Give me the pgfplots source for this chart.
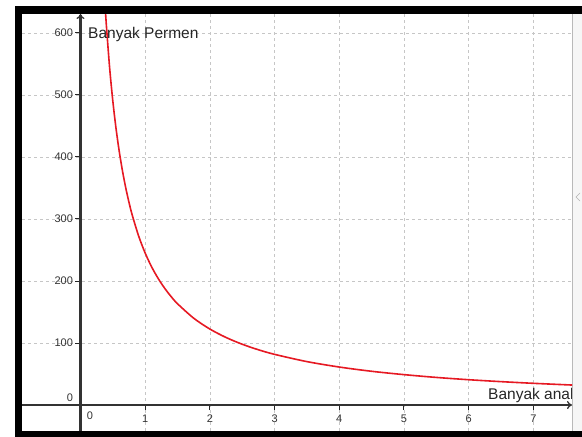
\documentclass[border=0pt]{standalone}
\usepackage{pgfplots}
\pgfplotsset{compat=1.18}
\usepackage{fontspec}
\setmainfont{Liberation Sans}
\usetikzlibrary{arrows.meta}
\definecolor{curvered}{RGB}{230,25,35}
\begin{document}
\begin{tikzpicture}[x=1pt,y=1pt]
\useasboundingbox (0,0) rectangle (582,437);
\fill[white] (0,0) rectangle (582,437);
\fill[gray!7] (572,6) rectangle (582,423);
\draw[gray!55, line width=1pt] (572.5,6) -- (572.5,423);
\draw[gray!60, line width=0.6pt] (580,244) -- (576,240) -- (580,236);
\begin{axis}[
  at={(22pt,6pt)}, anchor=south west, scale only axis,
  width=550pt, height=417pt,
  xmin=-0.904, xmax=7.597, ymin=-41.9, ymax=630.6,
  axis lines=middle,
  axis line style={line width=2.2pt, black!80},
  every inner x axis line/.append style={-{To[length=5pt,width=8pt,line width=1.3pt]}},
  every inner y axis line/.append style={-{To[length=5pt,width=8pt,line width=1.3pt]}},
  xtick={1,...,7}, ytick={100,200,...,600},
  grid=major,
  major grid style={gray!45, dash pattern=on 3pt off 3pt, line width=0.6pt},
  tick style={black!85, line width=1pt},
  major tick length=5pt, tick align=outside,
  /pgf/number format/assume math mode=true,
  tick label style={font=\fontsize{11}{11}\selectfont, text=black!80},
  xticklabel style={yshift=-1pt},
  yticklabel style={xshift=1pt},
  clip=true,
]
\addplot[curvered, line width=1.6pt, smooth] coordinates {
(0.38,644.7) (0.40,612.5) (0.45,544.4) (0.50,490) (0.55,445.5) (0.60,408.3)
(0.65,376.9) (0.70,350) (0.75,326.7) (0.80,306.25) (0.90,272.2) (1.00,245)
(1.10,222.7) (1.20,204.2) (1.30,188.5) (1.40,175) (1.50,163.3) (1.75,140)
(2.00,122.5) (2.25,108.9) (2.50,98) (2.75,89.1) (3.00,81.7) (3.50,70)
(4.00,61.25) (4.50,54.4) (5.00,49) (5.50,44.5) (6.00,40.8) (6.50,37.7)
(7.00,35) (7.60,32.2)
};
\end{axis}
\node[anchor=center, font=\fontsize{11}{11}\selectfont, text=black!80] at (90,21) {0};
\node[anchor=center, font=\fontsize{11}{11}\selectfont, text=black!80] at (70,39) {0};
\node[anchor=base west, font=\fontsize{15.5}{15.5}\selectfont, text=black!85, inner sep=0pt] at (88,398) {Banyak Permen};
\begin{scope}
\clip (22,6) rectangle (571,423);
\node[anchor=base west, font=\fontsize{15.5}{15.5}\selectfont, text=black!85, inner sep=0pt] at (488,37) {Banyak anak};
\end{scope}
\fill[black] (15,423) rectangle (582,431);
\fill[black] (15,0) rectangle (22,431);
\fill[black] (15,0) rectangle (582,6);
\end{tikzpicture}
\end{document}
